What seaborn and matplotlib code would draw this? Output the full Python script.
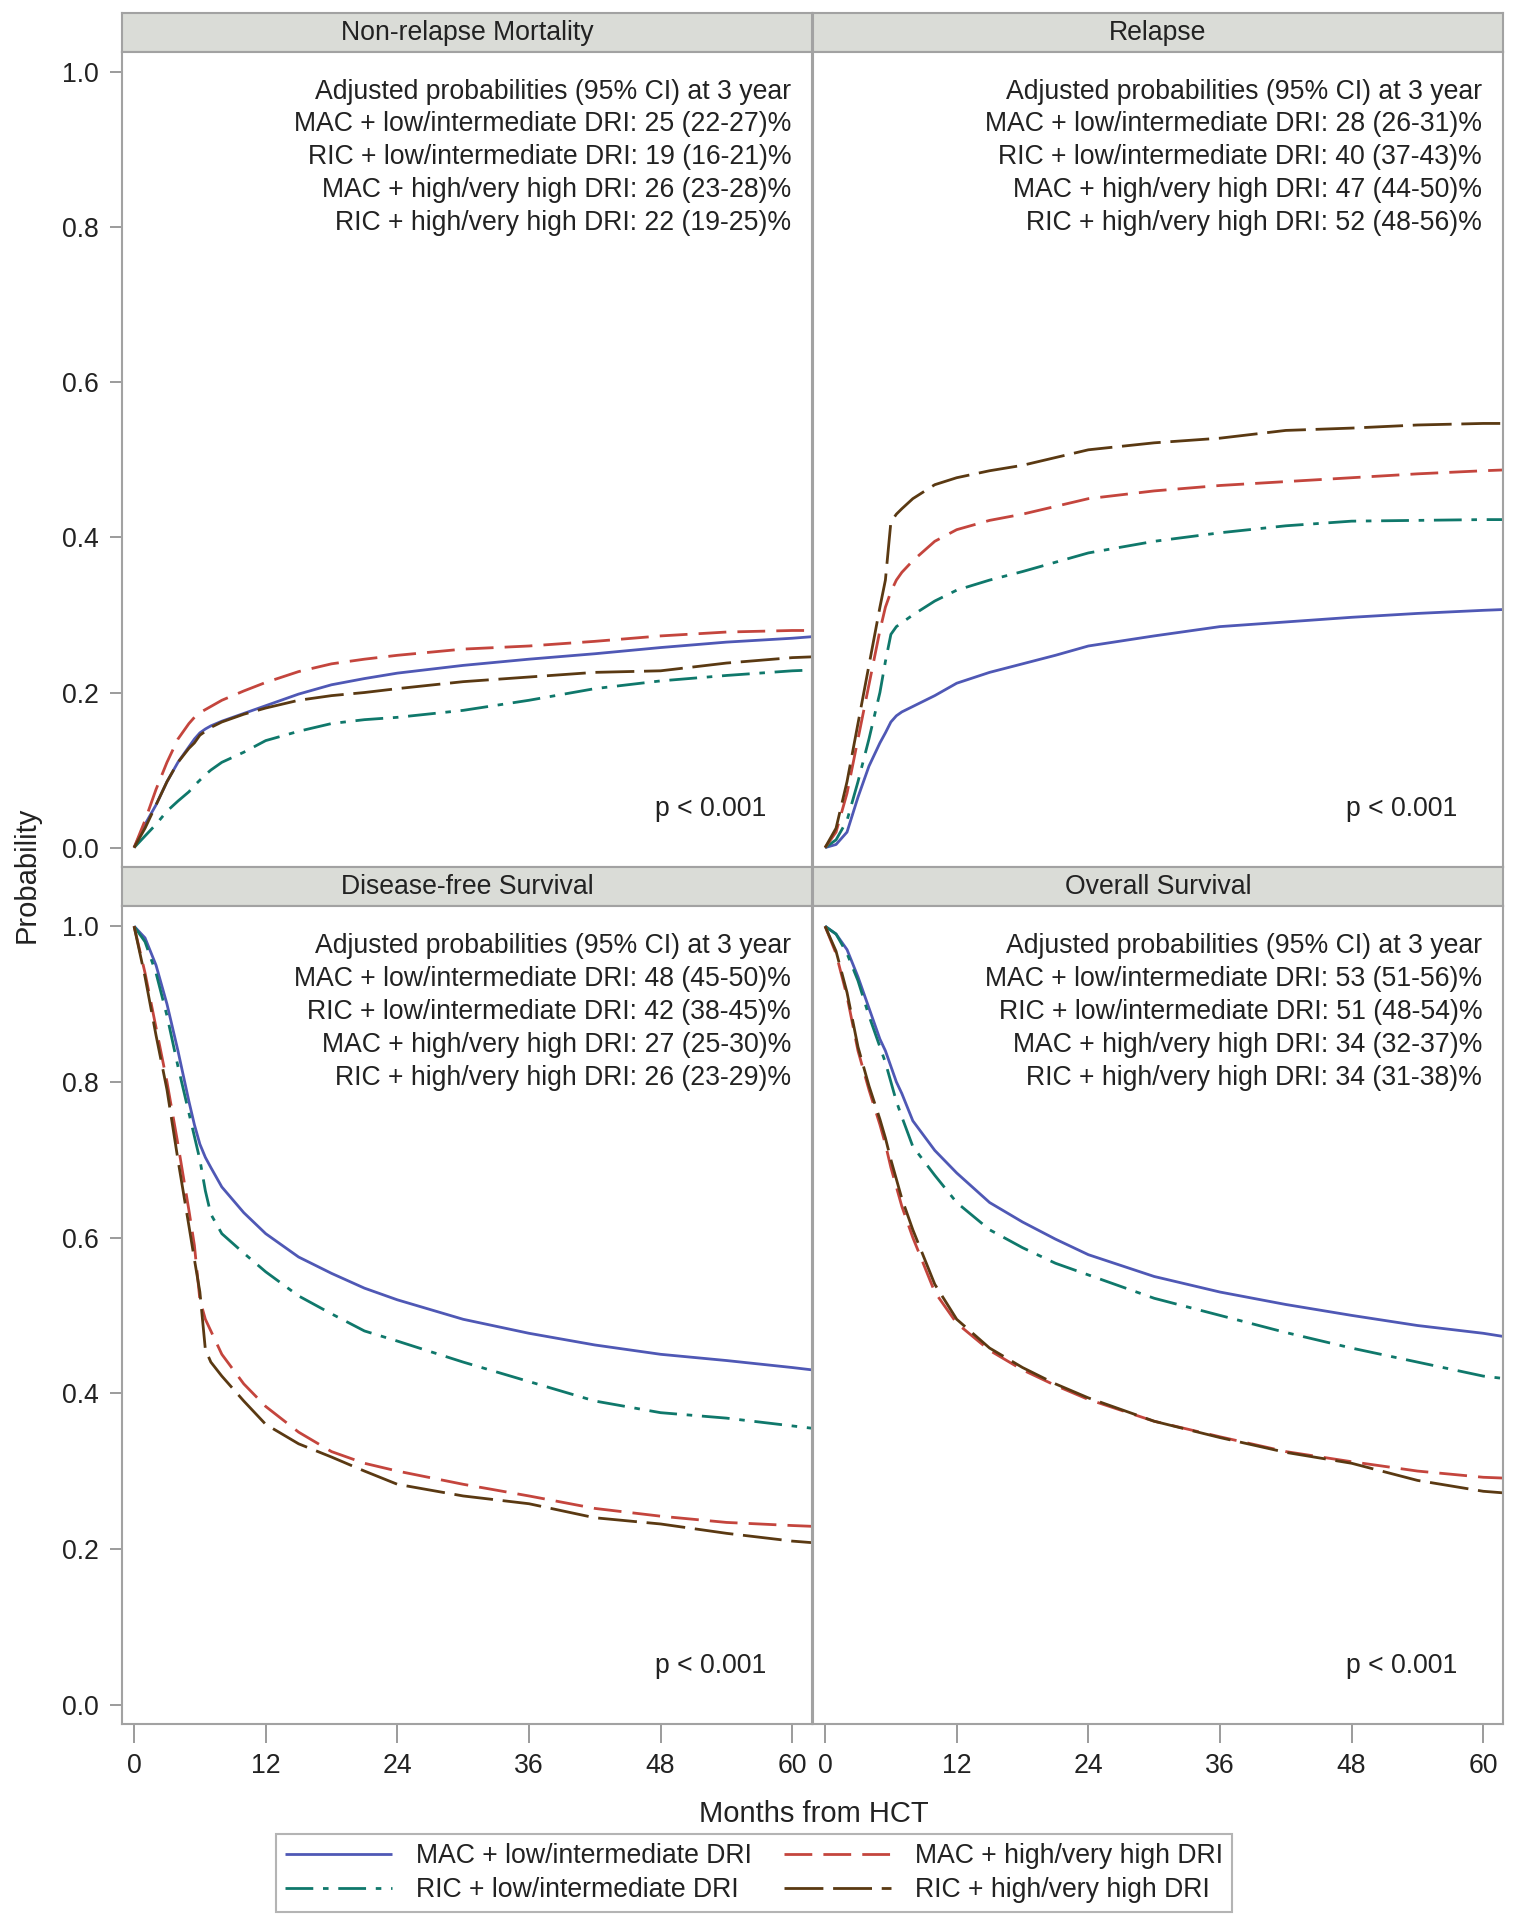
import numpy as np
import pandas as pd
import matplotlib
matplotlib.use("Agg")
import matplotlib.pyplot as plt
from matplotlib.lines import Line2D
import seaborn as sns

# data (probability vs months from HCT)
months = [0, 1, 2, 3, 4, 5, 5.5, 6, 6.5, 7, 8, 10, 12, 15, 18, 21, 24, 30, 36, 42, 48, 54, 60, 61.8]
groups = ['MAC + low/intermediate DRI', 'RIC + low/intermediate DRI',
          'MAC + high/very high DRI', 'RIC + high/very high DRI']

nrm_mac_low = [0, 0.03, 0.055, 0.085, 0.11, 0.13, 0.14, 0.148, 0.153, 0.157, 0.163, 0.173, 0.183, 0.198, 0.21, 0.218, 0.225, 0.235, 0.243, 0.25, 0.258, 0.265, 0.27, 0.272]
nrm_ric_low = [0, 0.015, 0.03, 0.047, 0.06, 0.072, 0.08, 0.087, 0.094, 0.1, 0.11, 0.123, 0.138, 0.15, 0.16, 0.165, 0.168, 0.177, 0.19, 0.205, 0.215, 0.222, 0.228, 0.229]
nrm_mac_high = [0, 0.035, 0.075, 0.11, 0.14, 0.16, 0.168, 0.174, 0.178, 0.182, 0.19, 0.202, 0.213, 0.227, 0.237, 0.243, 0.248, 0.256, 0.26, 0.266, 0.273, 0.278, 0.28, 0.28]
nrm_ric_high = [0, 0.025, 0.055, 0.085, 0.11, 0.128, 0.135, 0.145, 0.15, 0.155, 0.162, 0.172, 0.18, 0.19, 0.196, 0.2, 0.205, 0.214, 0.22, 0.226, 0.228, 0.238, 0.245, 0.246]

rel_mac_low = [0, 0.004, 0.02, 0.065, 0.105, 0.135, 0.148, 0.162, 0.17, 0.175, 0.182, 0.196, 0.212, 0.226, 0.237, 0.248, 0.26, 0.273, 0.285, 0.291, 0.297, 0.302, 0.306, 0.307]
rel_ric_low = [0, 0.01, 0.035, 0.085, 0.14, 0.2, 0.24, 0.275, 0.285, 0.29, 0.3, 0.318, 0.332, 0.345, 0.356, 0.368, 0.38, 0.395, 0.406, 0.415, 0.421, 0.422, 0.423, 0.423]
rel_mac_high = [0, 0.02, 0.07, 0.14, 0.21, 0.28, 0.31, 0.33, 0.345, 0.355, 0.37, 0.395, 0.41, 0.422, 0.43, 0.44, 0.45, 0.46, 0.467, 0.472, 0.477, 0.482, 0.486, 0.487]
rel_ric_high = [0, 0.025, 0.085, 0.16, 0.235, 0.31, 0.345, 0.42, 0.43, 0.437, 0.45, 0.468, 0.477, 0.486, 0.493, 0.503, 0.513, 0.522, 0.528, 0.538, 0.541, 0.545, 0.547, 0.547]

dfs_mac_low = [1.0, 0.985, 0.95, 0.9, 0.84, 0.775, 0.745, 0.72, 0.703, 0.69, 0.665, 0.632, 0.605, 0.575, 0.554, 0.535, 0.52, 0.495, 0.477, 0.462, 0.45, 0.442, 0.433, 0.43]
dfs_ric_low = [1.0, 0.98, 0.94, 0.885, 0.82, 0.76, 0.73, 0.7, 0.66, 0.63, 0.605, 0.58, 0.556, 0.525, 0.502, 0.48, 0.467, 0.44, 0.415, 0.39, 0.375, 0.368, 0.358, 0.355]
dfs_mac_high = [1.0, 0.94, 0.87, 0.8, 0.72, 0.635, 0.59, 0.52, 0.495, 0.48, 0.45, 0.412, 0.383, 0.35, 0.325, 0.31, 0.3, 0.283, 0.268, 0.252, 0.242, 0.234, 0.23, 0.229]
dfs_ric_high = [1.0, 0.935, 0.86, 0.79, 0.7, 0.615, 0.572, 0.53, 0.456, 0.44, 0.422, 0.39, 0.36, 0.335, 0.318, 0.3, 0.283, 0.268, 0.258, 0.24, 0.232, 0.22, 0.21, 0.208]

os_mac_low = [1.0, 0.99, 0.97, 0.935, 0.895, 0.855, 0.84, 0.82, 0.8, 0.785, 0.75, 0.712, 0.683, 0.645, 0.62, 0.598, 0.578, 0.55, 0.53, 0.514, 0.5, 0.487, 0.477, 0.473]
os_ric_low = [1.0, 0.99, 0.965, 0.93, 0.885, 0.845, 0.825, 0.8, 0.775, 0.755, 0.717, 0.68, 0.645, 0.61, 0.587, 0.567, 0.552, 0.522, 0.5, 0.478, 0.458, 0.44, 0.422, 0.419]
os_mac_high = [1.0, 0.965, 0.91, 0.84, 0.79, 0.745, 0.72, 0.69, 0.665, 0.64, 0.6, 0.53, 0.49, 0.455, 0.43, 0.41, 0.392, 0.364, 0.344, 0.325, 0.312, 0.3, 0.292, 0.291]
os_ric_high = [1.0, 0.968, 0.915, 0.845, 0.795, 0.752, 0.728, 0.7, 0.675, 0.65, 0.61, 0.54, 0.495, 0.458, 0.433, 0.412, 0.394, 0.364, 0.343, 0.324, 0.31, 0.288, 0.274, 0.272]

titles = ['Non-relapse Mortality', 'Relapse', 'Disease-free Survival', 'Overall Survival']
panel_series = [
    [nrm_mac_low, nrm_ric_low, nrm_mac_high, nrm_ric_high],
    [rel_mac_low, rel_ric_low, rel_mac_high, rel_ric_high],
    [dfs_mac_low, dfs_ric_low, dfs_mac_high, dfs_ric_high],
    [os_mac_low, os_ric_low, os_mac_high, os_ric_high],
]
annotations = [
    ['25 (22-27)', '19 (16-21)', '26 (23-28)', '22 (19-25)'],
    ['28 (26-31)', '40 (37-43)', '47 (44-50)', '52 (48-56)'],
    ['48 (45-50)', '42 (38-45)', '27 (25-30)', '26 (23-29)'],
    ['53 (51-56)', '51 (48-54)', '34 (32-37)', '34 (31-38)'],
]

colors = ['#4F58B5', '#0F786B', '#C4453D', '#5A3912']
dashes = [(1, 0), (10, 3.5, 2, 3.5), (10, 4), (14, 3.5)]
palette = dict(zip(groups, colors))
dash_map = dict(zip(groups, dashes))

sns.set_theme(style='white')
plt.rcParams['font.family'] = ['Liberation Sans', 'DejaVu Sans']

W, H = 1519, 1920
fig = plt.figure(figsize=(W / 100, H / 100), dpi=100)


def box(x0, y0, x1, y1):
    return [x0 / W, 1 - y1 / H, (x1 - x0) / W, (y1 - y0) / H]


frame_col = '#A2A2A2'
fs = 19.2
cols_x = [(122, 812), (813, 1503)]
rows_y = [((13, 52), (52, 867)), ((867, 906), (906, 1724))]

for i in range(4):
    r, c = divmod(i, 2)
    x0, x1 = cols_x[c]
    (hy0, hy1), (py0, py1) = rows_y[r]

    hax = fig.add_axes(box(x0, hy0, x1, hy1))
    hax.set_facecolor('#DADCD7')
    hax.set_xticks([])
    hax.set_yticks([])
    for s in hax.spines.values():
        s.set_color(frame_col)
        s.set_linewidth(1.5)
    hax.text(0.5, 0.5, titles[i], ha='center', va='center', fontsize=fs, color='#222222')

    ax = fig.add_axes(box(x0, py0, x1, py1))
    rows = []
    for g, vals in zip(groups, panel_series[i]):
        for m, v in zip(months, vals):
            rows.append((m, v, g))
    df = pd.DataFrame(rows, columns=['month', 'prob', 'group'])
    sns.lineplot(data=df, x='month', y='prob', hue='group', style='group',
                 palette=palette, dashes=dash_map, hue_order=groups, style_order=groups,
                 estimator=None, sort=False, linewidth=2.0, legend=False, ax=ax)

    ax.set_xlim(-1.1, 61.8)
    ax.set_ylim(-0.025, 1.026)
    ax.set_xlabel('')
    ax.set_ylabel('')
    for s in ax.spines.values():
        s.set_color(frame_col)
        s.set_linewidth(1.5)

    ax.set_xticks([0, 12, 24, 36, 48, 60])
    ax.set_yticks([0.0, 0.2, 0.4, 0.6, 0.8, 1.0])
    ax.tick_params(axis='x', bottom=(r == 1), labelbottom=(r == 1), length=14, width=1.2,
                   color='#8A8A8A', pad=7, labelsize=fs, labelcolor='#222222')
    ax.tick_params(axis='y', left=(c == 0), labelleft=(c == 0), length=9, width=1.2,
                   color='#8A8A8A', pad=8, labelsize=fs, labelcolor='#222222')
    ax.yaxis.set_major_formatter(matplotlib.ticker.FormatStrFormatter('%.1f'))

    lines = ['Adjusted probabilities (95% CI) at 3 year'] + \
            [f'{g}: {a}%' for g, a in zip(groups, annotations[i])]
    for k, t in enumerate(lines):
        ax.text(59.9, 0.975 - k * 0.0424, t, ha='right', va='center', fontsize=fs, color='#222222')
    ax.text(57.6, 0.05, 'p < 0.001', ha='right', va='center', fontsize=fs, color='#222222')

fig.text(27 / W, 1 - 875 / H, 'Probability', rotation=90, ha='center', va='center',
         fontsize=21, color='#222222')
fig.text(814 / W, 1 - 1814 / H, 'Months from HCT', ha='center', va='center',
         fontsize=21, color='#222222')

handles = [Line2D([0], [0], color=col, lw=2.0, dashes=d) for col, d in zip(colors, dashes)]
leg = fig.legend(handles, groups, ncol=2, loc='center',
                 bbox_to_anchor=(754 / W, 1 - 1873 / H), fontsize=fs,
                 handlelength=4.0, handletextpad=0.9, columnspacing=1.2,
                 labelspacing=0.3, borderpad=0.35, fancybox=False, frameon=True)
leg.get_frame().set_edgecolor(frame_col)
leg.get_frame().set_linewidth(1.5)
for t in leg.get_texts():
    t.set_color('#222222')

fig.savefig('out.png', dpi=100)
